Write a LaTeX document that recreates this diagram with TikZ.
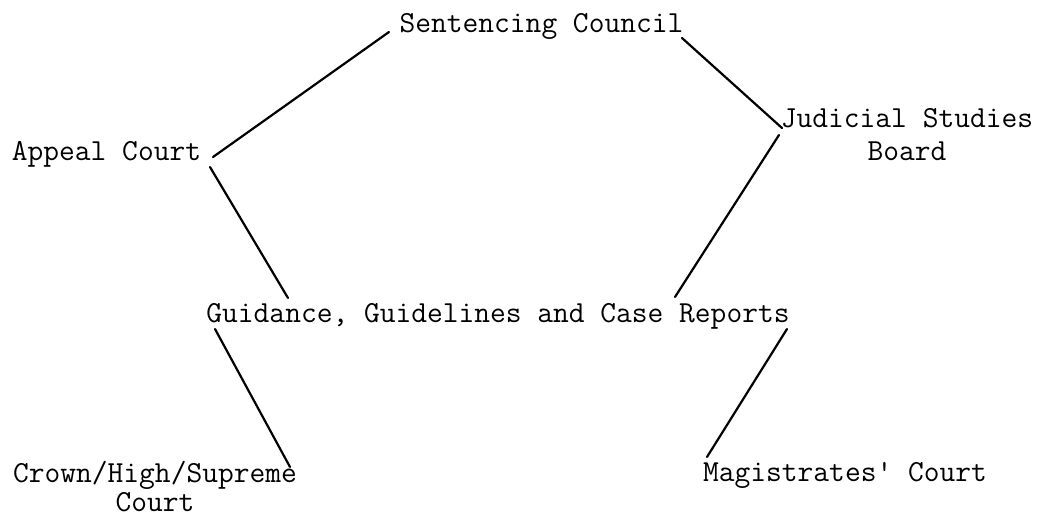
\documentclass[tikz,border=0pt]{standalone}
\begin{document}
\begin{tikzpicture}[x=0.5pt,y=-0.5pt,
  lbl/.style={inner sep=0pt,anchor=base,font=\fontsize{15.3}{15.5}\selectfont\ttfamily},
  link/.style={line width=1.1pt,line cap=round}]
\useasboundingbox (0,0) rectangle (1040,515);
\node[lbl] (sc) at (541.5,32) {Sentencing Council};
\node[lbl] (ac) at (106.5,160) {Appeal Court};
\node[lbl] (jsb) at (907,127) {\begin{tabular}[t]{@{}c@{}}Judicial Studies\\[1pt]Board\end{tabular}};
\node[lbl] (gd) at (498,322) {Guidance, Guidelines and Case Reports};
\node[lbl] (cr) at (155,482) {\begin{tabular}[t]{@{}c@{}}Crown/High/Supreme\\[-1pt]Court\end{tabular}};
\node[lbl] (mc) at (845,481) {Magistrates' Court};
\draw[link] ([shift={(-152.5,0)}]sc.base) -- ([shift={(106.5,-3)}]ac.base);
\draw[link] ([shift={(140.5,6)}]sc.base) -- ([shift={(-125,1)}]jsb.base);
\draw[link] ([shift={(-128,8)}]jsb.base) -- ([shift={(177,-25)}]gd.base);
\draw[link] ([shift={(103.5,7)}]ac.base) -- ([shift={(-210,-24)}]gd.base);
\draw[link] ([shift={(-283,7)}]gd.base) -- ([shift={(135,-15)}]cr.base);
\draw[link] ([shift={(289,7)}]gd.base) -- ([shift={(-138,-24)}]mc.base);
\end{tikzpicture}
\end{document}
